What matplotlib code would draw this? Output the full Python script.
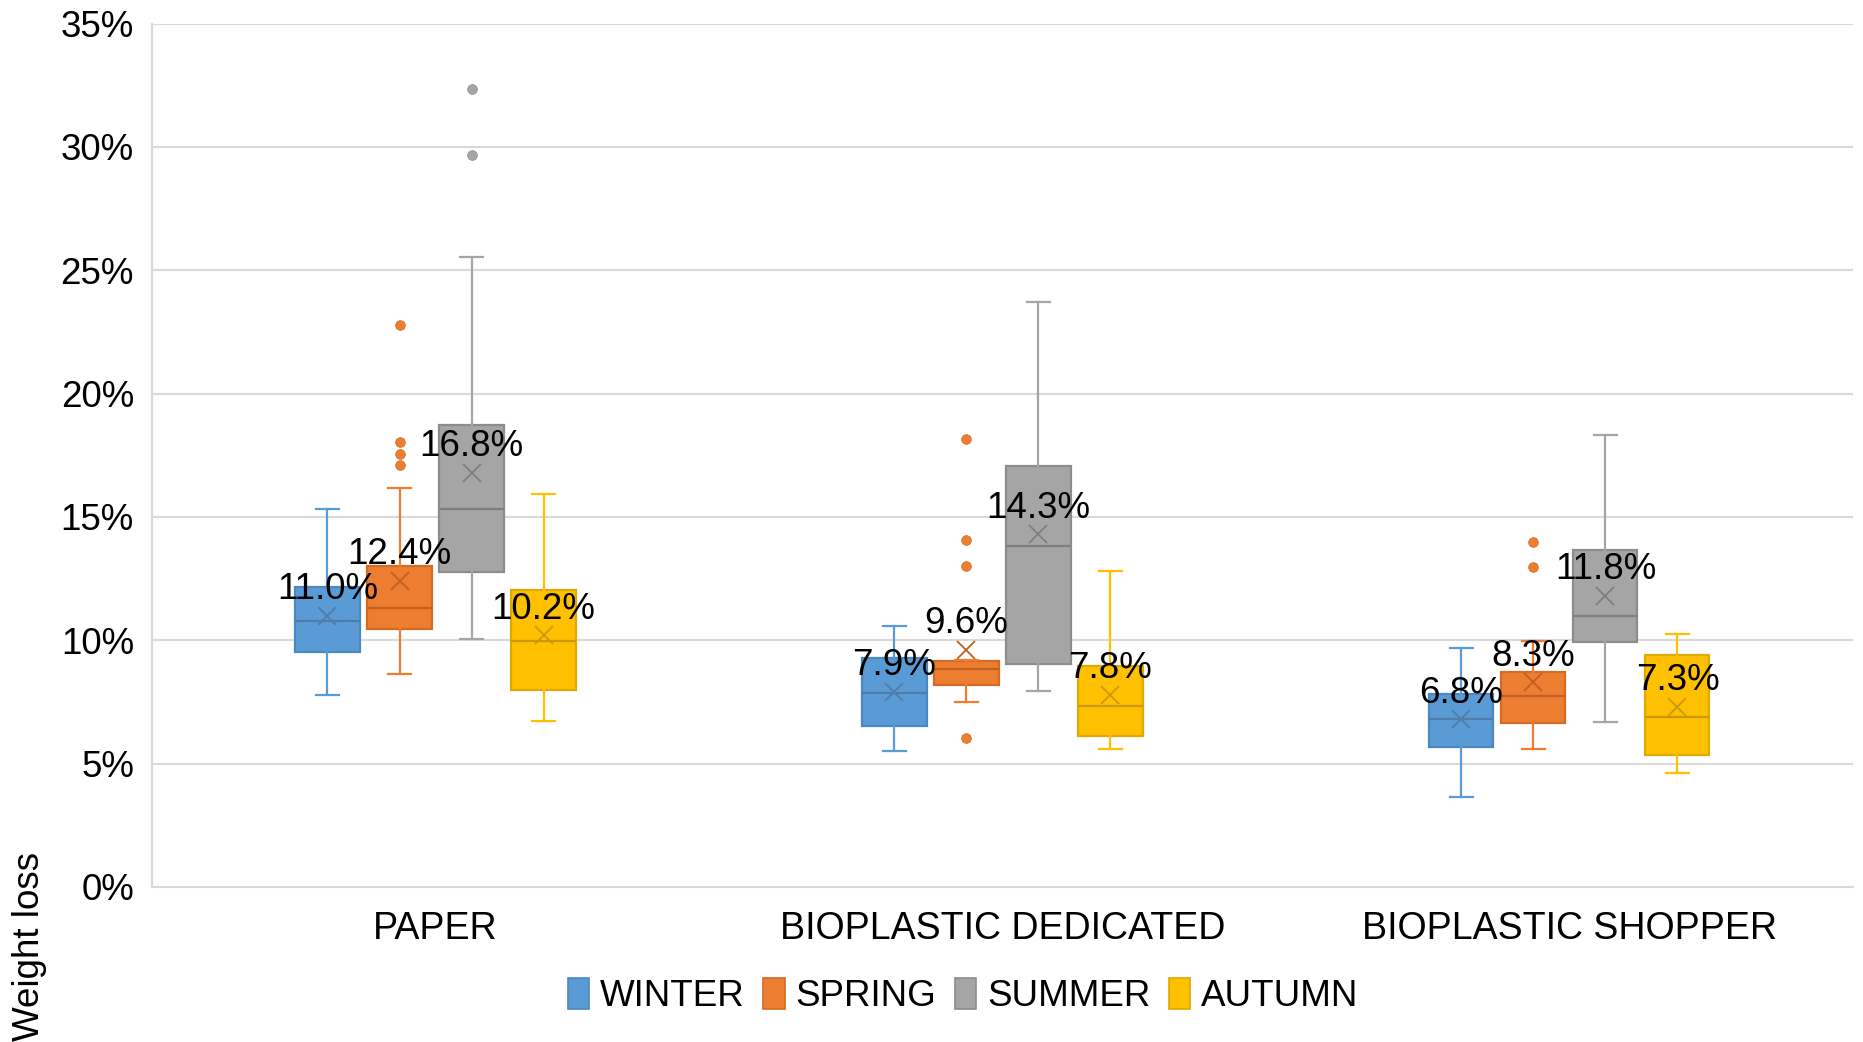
import matplotlib
matplotlib.use("Agg")
import matplotlib.pyplot as plt
from matplotlib.patches import Patch
from matplotlib.ticker import FuncFormatter

plt.rcParams['font.family'] = ['Liberation Sans', 'DejaVu Sans']

categories = ["PAPER", "BIOPLASTIC DEDICATED", "BIOPLASTIC SHOPPER"]
seasons = ["WINTER", "SPRING", "SUMMER", "AUTUMN"]

# statistics per season, one value per category (weight loss, %)
whislo = {"WINTER": [7.80, 5.50, 3.65], "SPRING": [8.65, 7.50, 5.59],
          "SUMMER": [10.05, 7.93, 6.68], "AUTUMN": [6.73, 5.59, 4.62]}
q1 = {"WINTER": [9.53, 6.51, 5.68], "SPRING": [10.47, 8.18, 6.65],
      "SUMMER": [12.76, 9.05, 9.93], "AUTUMN": [7.98, 6.11, 5.36]}
med = {"WINTER": [10.79, 7.86, 6.81], "SPRING": [11.32, 8.84, 7.73],
       "SUMMER": [15.31, 13.81, 10.97], "AUTUMN": [9.96, 7.35, 6.89]}
q3 = {"WINTER": [12.14, 9.28, 7.84], "SPRING": [13.02, 9.15, 8.72],
      "SUMMER": [18.73, 17.08, 13.65], "AUTUMN": [12.02, 8.97, 9.39]}
whishi = {"WINTER": [15.31, 10.57, 9.69], "SPRING": [16.17, 9.20, 9.96],
          "SUMMER": [25.52, 23.72, 18.32], "AUTUMN": [15.92, 12.80, 10.27]}
means = {"WINTER": [11.0, 7.9, 6.8], "SPRING": [12.4, 9.6, 8.3],
         "SUMMER": [16.8, 14.3, 11.8], "AUTUMN": [10.2, 7.8, 7.3]}
fliers = {"WINTER": [[], [], []],
          "SPRING": [[22.79, 18.05, 17.57, 17.12], [18.16, 14.07, 13.0, 6.04], [13.99, 12.97]],
          "SUMMER": [[32.34, 29.68], [], []],
          "AUTUMN": [[], [], []]}

fills = {"WINTER": "#5B9BD5", "SPRING": "#ED7D31", "SUMMER": "#A5A5A5", "AUTUMN": "#FFC000"}
edges = {"WINTER": "#4A88C2", "SPRING": "#D36B25", "SUMMER": "#8C8C8C", "AUTUMN": "#E0A800"}
marks = {"WINTER": "#4F7DA8", "SPRING": "#C05F20", "SUMMER": "#7F7F7F", "AUTUMN": "#C99A10"}

fig = plt.figure(figsize=(18.63, 10.42), dpi=100)
ax = fig.add_axes([0.0816, 0.1488, 0.913, 0.8286])

group_centers = [0.5, 1.5, 2.5]
offsets = [-0.1905, -0.0635, 0.0635, 0.1905]
width = 0.113
fs = 26.5

for si, s in enumerate(seasons):
    stats = []
    pos = []
    for ci in range(len(categories)):
        stats.append(dict(whislo=whislo[s][ci], q1=q1[s][ci], med=med[s][ci],
                          q3=q3[s][ci], whishi=whishi[s][ci], mean=means[s][ci],
                          fliers=fliers[s][ci]))
        pos.append(group_centers[ci] + offsets[si])
    ax.bxp(stats, positions=pos, widths=width, patch_artist=True,
           showmeans=True, capwidths=0.04,
           boxprops=dict(facecolor=fills[s], edgecolor=edges[s], linewidth=1.6),
           whiskerprops=dict(color=fills[s], linewidth=1.6),
           capprops=dict(color=fills[s], linewidth=1.6),
           medianprops=dict(color=marks[s], linewidth=1.6),
           meanprops=dict(marker='x', markersize=13, markeredgecolor=marks[s],
                          markeredgewidth=1.3),
           flierprops=dict(marker='o', markersize=7, markerfacecolor=fills[s],
                           markeredgecolor=edges[s], markeredgewidth=0.5),
           zorder=3)
    for ci in range(len(categories)):
        ax.annotate(f"{means[s][ci]:.1f}%", xy=(pos[ci], means[s][ci]),
                    xytext=(0, 12), textcoords='offset points',
                    ha='center', va='baseline', fontsize=fs, color='black', zorder=6)

ax.set_xlim(0, 3)
ax.set_ylim(0, 35)
ax.set_yticks(range(0, 36, 5))
ax.yaxis.set_major_formatter(FuncFormatter(lambda v, p: f"{int(v)}%"))
ax.set_xticks(group_centers)
ax.set_xticklabels(categories)
ax.tick_params(axis='y', length=0, pad=13, labelsize=fs)
ax.tick_params(axis='x', length=0, pad=17, labelsize=27)
ax.grid(axis='y', color='#D9D9D9', linewidth=1.5, zorder=0)
ax.set_axisbelow(True)
for side in ['top', 'right']:
    ax.spines[side].set_visible(False)
for side in ['left', 'bottom']:
    ax.spines[side].set_color('#D9D9D9')
    ax.spines[side].set_linewidth(1.5)

handles = [Patch(facecolor=fills[s], edgecolor=edges[s], linewidth=1.2) for s in seasons]
fig.legend(handles, seasons, loc='center', bbox_to_anchor=(0.517, 0.044),
           ncol=4, frameon=False, fontsize=26.5, handlelength=0.58, handleheight=0.89,
           handletextpad=0.3, columnspacing=0.5)

fig.text(0.016, 0.092, "Weight loss", rotation=90, ha='center', va='center', fontsize=fs)

fig.savefig("out.png", dpi=100)
